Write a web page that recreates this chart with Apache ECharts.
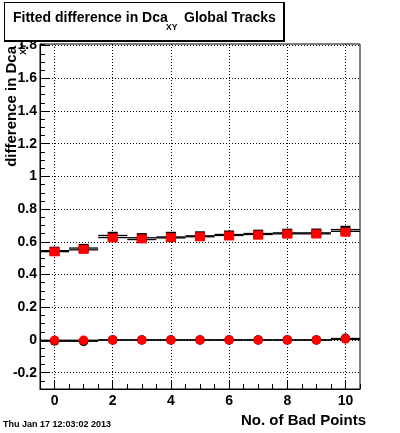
<!DOCTYPE html>
<html><head><meta charset="utf-8">
<script src="https://cdn.jsdelivr.net/npm/echarts@6/dist/echarts.min.js"></script>
<style>html,body{margin:0;padding:0;background:#fff}#c{width:400px;height:433px}</style>
</head><body><div id="c"></div>
<script>
// ---- data ----
const badPoints    = [0, 1, 2, 3, 4, 5, 6, 7, 8, 9, 10];
const redSquares   = [0.539, 0.554, 0.624, 0.618, 0.626, 0.631, 0.636, 0.641, 0.647, 0.648, 0.659];
const blackSquares = [0.543, 0.560, 0.634, 0.626, 0.634, 0.637, 0.642, 0.647, 0.653, 0.654, 0.671];
const redCircles   = [-0.002, -0.002, 0, 0, 0, 0, 0, 0, 0, 0, 0.006];
const blackCircles = [-0.006, -0.009, 0, 0, 0, 0, 0, 0, 0, 0, 0.010];
const fitHigh      = [0.546, 0.562, 0.639, 0.625, 0.630, 0.637, 0.645, 0.651, 0.655, 0.655, 0.675];
const fitLow       = [0.540, 0.551, 0.626, 0.614, 0.624, 0.631, 0.639, 0.645, 0.649, 0.649, 0.664];
const zeroFitHigh  = [-0.002, -0.002, 0, 0, 0, 0, 0, 0, 0, 0, 0.009];
const zeroFitLow   = [-0.008, -0.008, 0, 0, 0, 0, 0, 0, 0, 0, 0.003];
const xTicks       = [0, 2, 4, 6, 8, 10];
const yTicks       = [-0.2, 0, 0.2, 0.4, 0.6, 0.8, 1, 1.2, 1.4, 1.6, 1.8];
const yTickLabels  = ['-0.2', '0', '0.2', '0.4', '0.6', '0.8', '1', '1.2', '1.4', '1.6', '1.8'];

const FONT = '"Liberation Sans", Arial, Helvetica, sans-serif';
const chart = echarts.init(document.getElementById('c'), null, {renderer: 'canvas'});

function pairs(ys) { return badPoints.map((x, i) => [x, ys[i]]); }
function stepSeries(ys, width) {
  return {
    type: 'custom', xAxisIndex: 0, yAxisIndex: 0, data: pairs(ys), z: 2, silent: true, clip: true,
    renderItem(params, api) {
      const x = api.value(0), y = api.value(1);
      const a = api.coord([x - 0.5, y]), b = api.coord([x + 0.5, y]);
      return {type: 'line', shape: {x1: a[0], y1: a[1], x2: b[0], y2: b[1]},
              style: {stroke: '#000', lineWidth: width}};
    }
  };
}
function markers(ys, symbol, size, color, z) {
  return {type: 'scatter', xAxisIndex: 0, yAxisIndex: 0, data: pairs(ys), symbol: symbol,
          symbolSize: size, itemStyle: {color: color, opacity: 1}, z: z, silent: true};
}

const boldText = {fontFamily: FONT, fontWeight: 'bold', fill: '#000'};

chart.setOption({
  animation: false,
  backgroundColor: '#fff',
  grid: {left: 40, top: 44, width: 320, height: 345, show: true, borderColor: '#000', borderWidth: 1, backgroundColor: '#fff'},
  xAxis: [
    {type: 'value', min: -0.5, max: 10.5, position: 'bottom',
     axisLine: {show: true, onZero: false, lineStyle: {color: '#000', width: 1}},
     axisTick: {show: true, inside: true, length: 9, customValues: xTicks, lineStyle: {color: '#000', width: 1}},
     axisLabel: {customValues: xTicks, margin: 5, color: '#000', fontFamily: FONT, fontWeight: 'bold', fontSize: 14},
     splitLine: {show: true, lineStyle: {color: '#000', type: [1, 2], width: 1}}},
    {type: 'value', min: -0.5, max: 10.5, interval: 0.5, position: 'bottom',
     axisLine: {show: false, onZero: false},
     axisTick: {show: true, inside: true, length: 5, lineStyle: {color: '#000', width: 1}},
     axisLabel: {show: false}, splitLine: {show: false}}
  ],
  yAxis: [
    {type: 'value', min: -0.3, max: 1.81, position: 'left',
     axisLine: {show: true, onZero: false, lineStyle: {color: '#000', width: 1}},
     axisTick: {show: true, inside: true, length: 9, customValues: yTicks, lineStyle: {color: '#000', width: 1}},
     axisLabel: {customValues: yTicks, margin: 3, color: '#000', fontFamily: FONT, fontWeight: 'bold', fontSize: 14,
                 formatter: v => { const i = yTicks.findIndex(t => Math.abs(t - v) < 1e-6); return i >= 0 ? yTickLabels[i] : ''; }},
     splitLine: {show: true, lineStyle: {color: '#000', type: [1, 2], width: 1}}},
    {type: 'value', min: -0.3, max: 1.81, interval: 0.05, position: 'left',
     axisLine: {show: false, onZero: false},
     axisTick: {show: true, inside: true, length: 5, lineStyle: {color: '#000', width: 1}},
     axisLabel: {show: false}, splitLine: {show: false}}
  ],
  series: [
    stepSeries(fitHigh, 1.3), stepSeries(fitLow, 1.3),
    stepSeries(zeroFitHigh, 1.3), stepSeries(zeroFitLow, 1.3),
    markers(blackSquares, 'rect', [10, 9], '#000', 3),
    markers(redSquares, 'rect', [10, 9], '#ff0000', 4),
    markers(blackCircles, 'circle', 9.5, '#000', 3),
    markers(redCircles, 'circle', 9.5, '#ff0000', 4)
  ],
  graphic: [
    {type: 'rect', left: 4, top: 2, shape: {width: 281, height: 40}, style: {fill: '#000'}, z: 10},
    {type: 'rect', left: 5, top: 3, shape: {width: 278, height: 37}, style: {fill: '#fff'}, z: 11},
    {type: 'text', x: 13, y: 18.5, z: 12, style: Object.assign({text: 'Fitted difference in Dca', fontSize: 14, textAlign: 'left', textVerticalAlign: 'middle'}, boldText)},
    {type: 'text', x: 166, y: 28, z: 12, style: Object.assign({text: 'XY', fontSize: 8.5, textAlign: 'left', textVerticalAlign: 'middle'}, boldText)},
    {type: 'text', x: 184, y: 18.5, z: 12, style: Object.assign({text: 'Global Tracks', fontSize: 14, textAlign: 'left', textVerticalAlign: 'middle'}, boldText)},
    {type: 'text', x: 12, y: 46, rotation: Math.PI / 2, z: 12, style: Object.assign({text: 'difference in Dca', fontSize: 15, textAlign: 'right', textVerticalAlign: 'middle'}, boldText)},
    {type: 'text', x: 24, y: 49, rotation: Math.PI / 2, z: 12, style: Object.assign({text: 'XY', fontSize: 8.5, textAlign: 'center', textVerticalAlign: 'middle'}, boldText)},
    {type: 'text', x: 366, y: 421, z: 12, style: Object.assign({text: 'No. of Bad Points', fontSize: 15, textAlign: 'right', textVerticalAlign: 'middle'}, boldText)},
    {type: 'text', x: 3, y: 425, z: 12, style: Object.assign({text: 'Thu Jan 17 12:03:02 2013', fontSize: 9, textAlign: 'left', textVerticalAlign: 'middle'}, boldText)}
  ]
});
</script></body></html>
